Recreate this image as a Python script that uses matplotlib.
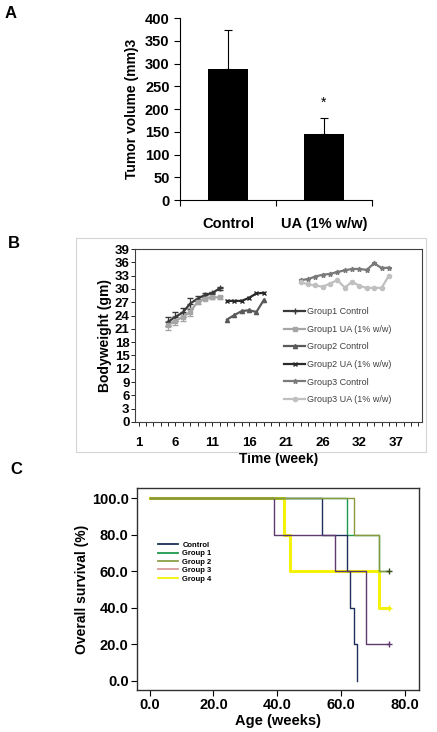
import matplotlib.pyplot as plt
import matplotlib.patches as mpatches
from matplotlib.lines import Line2D

plt.rcParams['font.family'] = ['Liberation Sans', 'DejaVu Sans']

# ---- panel A data
groupsA = ['Control', 'UA (1% w/w)']
tumorVol = [288, 145]
tumorErr = [85, 36]

# ---- panel B data
weeks1 = [5, 6, 7, 8, 9, 10, 11, 12]
g1Control = [22.6, 23.7, 24.7, 26.7, 27.8, 28.6, 29.1, 30.1]
g1ControlErr = [1.0, 1.0, 1.0, 1.2, 0.5, 0.4, 0.3, 0.3]
g1UA = [21.8, 22.8, 23.7, 24.8, 27.1, 27.8, 28.1, 28.1]
g1UAErr = [1.0, 1.0, 0.9, 1.0, 0.5, 0.4, 0.3, 0.3]
weeks2 = [13, 14, 15, 16, 17, 18]
g2Control = [23.1, 24.1, 25.0, 25.2, 24.8, 27.5]
g2UA = [27.3, 27.3, 27.3, 28.0, 29.0, 29.1]
weeks3 = [23, 24, 25, 26, 27, 28, 29, 30, 31, 32, 33, 34, 35]
g3Control = [32.0, 32.2, 32.8, 33.2, 33.4, 33.8, 34.2, 34.5, 34.5, 34.3, 35.8, 34.7, 34.8]
g3UA = [31.6, 31.0, 30.8, 30.5, 31.2, 32.0, 30.3, 31.6, 30.7, 30.2, 30.3, 30.2, 33.0]
weekTickPos = [1, 6, 11, 16, 21, 26, 31, 36]
weekTickLabels = ['1', '6', '11', '16', '21', '26', '32', '37']

# ---- panel C data (Kaplan-Meier steps)
kmNames = ['Control', 'Group 1', 'Group 2', 'Group 3', 'Group 4']
kmTimes = {
    'Group 4': [0, 42, 44, 72, 75],
    'Group 2': [0, 64, 72, 75],
    'Group 1': [0, 62, 72, 75],
    'Control': [0, 54, 62, 63, 64, 65],
    'Group 3': [0, 39, 58, 68, 75],
}
kmSurv = {
    'Group 4': [100, 80, 60, 40, 40],
    'Group 2': [100, 80, 60, 60],
    'Group 1': [100, 80, 60, 60],
    'Control': [100, 80, 60, 40, 20, 0],
    'Group 3': [100, 80, 60, 20, 20],
}
censored = {'Group 2': True, 'Group 4': True, 'Group 3': True}
kmColors = {'Control': '#1f2f5c', 'Group 1': '#1e9a4e', 'Group 2': '#8a9a3c',
            'Group 3': '#5e3a6e', 'Group 4': '#f4f20a'}
legendColors = {'Control': '#1f2f5c', 'Group 1': '#1e9a4e', 'Group 2': '#8aa04a',
                'Group 3': '#d89a9a', 'Group 4': '#f4f20a'}

W, H = 437, 732
fig = plt.figure(figsize=(W / 100, H / 100), dpi=100, facecolor='white')


def box(l, t, r, b):
    return [l / W, 1 - b / H, (r - l) / W, (b - t) / H]


# ================= A
axA = fig.add_axes(box(180, 18, 372, 200))
xA = [0, 1]
axA.bar(xA, tumorVol, width=0.42, color='black', zorder=2)
axA.errorbar(xA, tumorVol, yerr=[[0, 0], tumorErr], fmt='none', ecolor='black',
             elinewidth=0.8, capsize=3, capthick=0.8)
axA.text(1, 198, '*', ha='center', va='bottom', fontsize=10)
axA.set_xlim(-0.5, 1.5)
axA.set_ylim(0, 400)
axA.set_yticks(range(0, 401, 50))
axA.set_xticks(xA)
axA.set_xticklabels(groupsA, fontsize=10.5, fontweight='bold')
axA.set_xticks([-0.5, 0.5, 1.5], minor=True)
axA.tick_params(axis='x', which='major', length=0, pad=12)
axA.tick_params(axis='x', which='minor', length=4, direction='out', width=0.8)
axA.tick_params(axis='y', labelsize=10.5, length=4, width=0.8)
for lb in axA.get_yticklabels():
    lb.set_fontweight('bold')
axA.spines['top'].set_visible(False)
axA.spines['right'].set_visible(False)
axA.set_ylabel('Tumor volume (mm)3', fontsize=10, fontweight='bold', labelpad=4)
fig.text(5 / W, 1 - 14 / H, 'A', fontsize=12, fontweight='bold', va='center')

# ================= B
fig.add_artist(mpatches.Rectangle((76 / W, 1 - 452 / H), 350 / W, 214 / H, fill=False,
                                  edgecolor='#d4d4d4', lw=0.8, transform=fig.transFigure))
axB = fig.add_axes(box(135, 249, 422, 422))
styleB = [
    ('Group1 Control', '#3a3a3a', '+', 4),
    ('Group1 UA (1% w/w)', '#a6a6a6', 's', 3),
    ('Group2 Control', '#5a5a5a', '^', 3),
    ('Group2 UA (1% w/w)', '#2a2a2a', 'x', 3),
    ('Group3 Control', '#7a7a7a', '*', 3.5),
    ('Group3 UA (1% w/w)', '#c0c0c0', 'o', 3),
]
seriesB = [(weeks1, g1Control, g1ControlErr), (weeks1, g1UA, g1UAErr),
           (weeks2, g2Control, None), (weeks2, g2UA, None),
           (weeks3, g3Control, None), (weeks3, g3UA, None)]
handlesB = []
for (lab, col, mk, ms), (xs, ys, err) in zip(styleB, seriesB):
    if err is not None:
        axB.errorbar(xs, ys, yerr=err, color=col, marker=mk, ms=ms, lw=1.6,
                     elinewidth=0.8, capsize=2)
    else:
        axB.plot(xs, ys, color=col, marker=mk, ms=ms, lw=1.6)
    handlesB.append(Line2D([], [], color=col, marker=mk, ms=ms, lw=1.6, label=lab))
axB.set_xlim(0.5, 39.5)
axB.set_ylim(0, 39)
axB.set_yticks(range(0, 40, 3))
axB.set_xticks(weekTickPos)
axB.set_xticklabels(weekTickLabels)
axB.set_xticks(range(1, 40), minor=True)
axB.tick_params(axis='x', which='both', length=3, width=0.6, labelsize=9.5, pad=8)
axB.tick_params(axis='y', length=3, width=0.6, labelsize=9.5, pad=1)
for lb in axB.get_xticklabels() + axB.get_yticklabels():
    lb.set_fontweight('bold')
for sp in axB.spines.values():
    sp.set_color('#404040')
    sp.set_linewidth(0.8)
axB.set_ylabel('Bodyweight (gm)', fontsize=10, fontweight='bold', labelpad=2)
axB.set_xlabel('Time (week)', fontsize=10, fontweight='bold', labelpad=2)
axB.legend(handles=handlesB, loc='upper left', bbox_to_anchor=(0.49, 0.71), frameon=False,
           fontsize=6.5, labelspacing=0.95, handlelength=2.4, handletextpad=0.2,
           labelcolor='#404040')
fig.text(8 / W, 1 - 243 / H, 'B', fontsize=12, fontweight='bold', va='center')

# ================= C
axC = fig.add_axes(box(137, 488, 419, 690))
order = ['Group 4', 'Group 1', 'Control', 'Group 3', 'Group 2']
for z, name in enumerate(order):
    lw = 2.2 if name == 'Group 4' else 1.0
    axC.step(kmTimes[name], kmSurv[name], where='post', color=kmColors[name], lw=lw,
             zorder=1 + z)
    if censored.get(name):
        axC.plot(kmTimes[name][-1], kmSurv[name][-1], marker='+', ms=5, mew=1,
                 color=kmColors[name] if name != 'Group 2' else '#3a4a1a', zorder=10)
axC.set_xlim(-4, 84.5)
axC.set_ylim(-5, 105.5)
axC.set_xticks([0, 20, 40, 60, 80])
axC.set_yticks([0, 20, 40, 60, 80, 100])
axC.set_xticklabels(['0.0', '20.0', '40.0', '60.0', '80.0'])
axC.set_yticklabels(['0.0', '20.0', '40.0', '60.0', '80.0', '100.0'])
axC.tick_params(labelsize=10.5, length=4, width=0.8, pad=2)
for lb in axC.get_xticklabels() + axC.get_yticklabels():
    lb.set_fontweight('bold')
for sp in axC.spines.values():
    sp.set_color('#303030')
    sp.set_linewidth(1.0)
axC.set_ylabel('Overall survival (%)', fontsize=10, fontweight='bold', labelpad=2)
axC.set_xlabel('Age (weeks)', fontsize=10.5, fontweight='bold', labelpad=1)
handles = [Line2D([], [], color=legendColors[n], lw=1.3) for n in kmNames]
legC = axC.legend(handles, kmNames, loc='upper left', bbox_to_anchor=(0.05, 0.77),
                  frameon=False, labelspacing=0.15, handlelength=2.6, handletextpad=0.6,
                  prop={'size': 5.5, 'weight': 'bold'})
fig.text(10 / W, 1 - 469 / H, 'C', fontsize=12, fontweight='bold', va='center')

fig.savefig('out.png', dpi=100, facecolor='white')
